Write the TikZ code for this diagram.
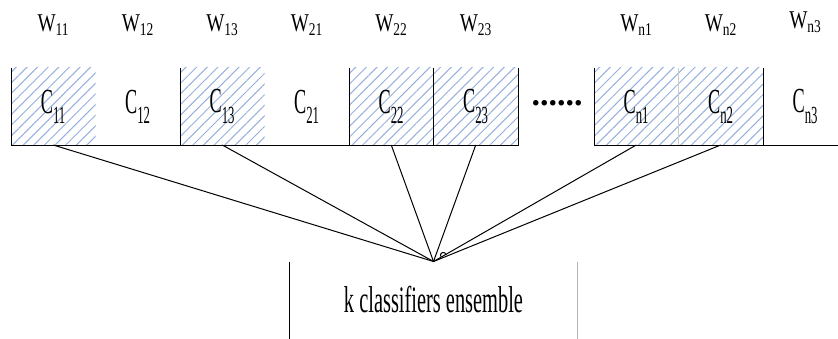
\documentclass[tikz,border=0pt]{standalone}
\usepackage{fontspec}
\setmainfont{Liberation Serif}
\usetikzlibrary{matrix,patterns.meta}

\definecolor{hatchblue}{RGB}{150,175,220}
\newcommand{\wlab}[1]{\scalebox{0.75}[1]{W\textsubscript{#1}}}
\newcommand{\clab}[1]{\scalebox{0.57}[1.1]{C\raisebox{-3pt}{\textsubscript{#1}}}}

\begin{document}
\begin{tikzpicture}[x=1pt, y=1pt, line width=1pt,
		hatched/.style={pattern={Lines[angle=45,distance=7.5pt,line width=1pt]}, pattern color=hatchblue},
		ensbox/.style={inner sep=0pt, minimum width=287pt, minimum height=76pt, font=\fontsize{34}{36}\selectfont}]
	\useasboundingbox (0,0) rectangle (838,338);
	
	\matrix (m1) [matrix of nodes, anchor=south west, inner sep=0pt, outer sep=0pt, column sep=0pt, row sep=0pt, nodes={anchor=center,inner sep=0pt,outer sep=0pt,minimum width=84.5pt,minimum height=77pt,font=\fontsize{32}{34}\selectfont}, row 1/.style={nodes={minimum height=86pt,font=\fontsize{25.6}{28}\selectfont}}, nodes in empty cells] at (11,193) {
		\wlab{11} & \wlab{12} & \wlab{13} & \wlab{21} & \wlab{22} & \wlab{23} \\
		|[hatched]| \clab{11} & \clab{12} & |[hatched]| \clab{13} & \clab{21} & |[hatched]| \clab{22} & |[hatched]| \clab{23} \\
	};
	
	\matrix (m2) [matrix of nodes, anchor=south west, inner sep=0pt, outer sep=0pt, column sep=0pt, row sep=0pt, nodes={anchor=center,inner sep=0pt,outer sep=0pt,minimum width=84.5pt,minimum height=77pt,font=\fontsize{32}{34}\selectfont}, row 1/.style={nodes={minimum height=86pt,font=\fontsize{25.6}{28}\selectfont}}, nodes in empty cells] at (594,193) {
		\wlab{n1} & \wlab{n2} & |[yshift=3pt]| \wlab{n3} \\
		|[hatched]| \clab{n1} & |[hatched]| \clab{n2} & \clab{n3} \\
	};
	
	\draw (m1-2-1.north west) -- (m1-2-1.south west) -- (m1-2-6.south east) -- (m1-2-6.north east);
	\draw (m1-2-3.north west) -- (m1-2-3.south west);
	\draw (m1-2-5.north west) -- (m1-2-5.south west);
	\draw (m1-2-6.north west) -- (m1-2-6.south west);
	
	\node[font=\fontsize{34}{36}\selectfont\bfseries, inner sep=0pt] (dots) at (557,235) {......};
	
	\draw (m2-2-1.north west) -- (m2-2-1.south west) -- (m2-2-3.south east);
	\draw[gray!40, line width=0.6pt] (m2-2-2.north west) -- (m2-2-2.south west);
	\draw (m2-2-3.north west) -- (m2-2-3.south west);
	
	\node[ensbox] (ens) at (433.5,38) {\scalebox{0.6}[1.1]{k classifiers ensemble}};
	\draw (ens.north west) -- (ens.south west);
	\draw[gray!60] (ens.north east) -- (ens.south east);
	
	\foreach \c in {m1-2-1, m1-2-3, m1-2-5, m1-2-6, m2-2-1, m2-2-2}
		\draw (\c.south) -- (ens.north);
	\draw ([xshift=7pt,yshift=5pt]ens.north) arc[start angle=200, end angle=20, radius=3pt];
\end{tikzpicture}
\end{document}
